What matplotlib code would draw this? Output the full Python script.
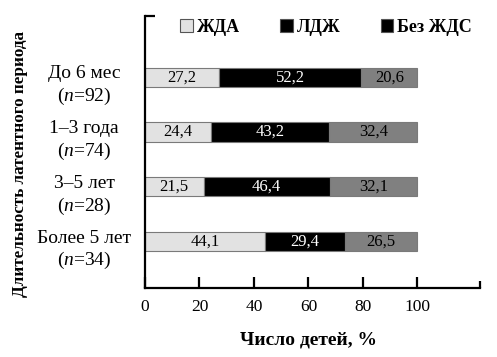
import matplotlib
matplotlib.use("Agg")
import matplotlib.pyplot as plt
from matplotlib.patches import Patch
from matplotlib.transforms import blended_transform_factory, ScaledTranslation

plt.rcParams['font.family'] = ['Liberation Serif', 'DejaVu Serif']
plt.rcParams['mathtext.fontset'] = 'custom'
plt.rcParams['mathtext.rm'] = 'Liberation Serif'
plt.rcParams['mathtext.it'] = 'Liberation Serif:italic'

categories = ["До 6 мес", "1–3 года", "3–5 лет", "Более 5 лет"]
counts = [92, 74, 28, 34]
series_names = ["ЖДА", "ЛДЖ", "Без ЖДС"]
zhda = [27.2, 24.4, 21.5, 44.1]
ldzh = [52.2, 43.2, 46.4, 29.4]
bez = [20.6, 32.4, 32.1, 26.5]
xticks = [0, 20, 40, 60, 80, 100]

fill_colors = ["#e2e2e2", "#000000", "#808080"]
text_colors = ["#000000", "#ffffff", "#000000"]
legend_colors = ["#e2e2e2", "#000000", "#000000"]

fig = plt.figure(figsize=(4.97, 3.57), dpi=100)
ax = fig.add_axes([145/497, 69/357, 335/497, 272/357])

ypos = list(range(len(categories)))
left = [0.0] * len(categories)
for vals, fc, tc in zip([zhda, ldzh, bez], fill_colors, text_colors):
    bars = ax.barh(ypos, vals, left=left, height=0.35, color=fc,
                   edgecolor="#7a7a7a", linewidth=0.8)
    for b, v in zip(bars, vals):
        ax.text(b.get_x() + b.get_width() / 2, b.get_y() + b.get_height() / 2,
                f"{v:.1f}".replace(".", ","), ha="center", va="center",
                color=tc, fontsize=12)
    left = [l + v for l, v in zip(left, vals)]

ytop = -1.12
ax.set_ylim(3.85, ytop)
ax.set_xlim(0, 123)

for s in ["top", "right"]:
    ax.spines[s].set_visible(False)
for s in ["left", "bottom"]:
    ax.spines[s].set_linewidth(1.6)

ax.set_xticks(xticks)
ax.set_xticklabels([str(t) for t in xticks], fontsize=12.5)
ax.tick_params(axis="x", direction="in", length=8, width=1.6, pad=8)
ax.set_xticks([123], minor=True)
ax.tick_params(axis="x", which="minor", direction="in", length=5, width=1.6)

ax.set_yticks([])
ax.set_yticks([ytop], minor=True)
ax.tick_params(axis="y", which="minor", direction="in", length=7, width=1.6,
               labelleft=False)

trans = blended_transform_factory(ax.transAxes, ax.transData) + \
    ScaledTranslation(0, -9/100, fig.dpi_scale_trans)
for i, (c, n) in enumerate(zip(categories, counts)):
    ax.text(-61/335, i, f"{c}\n($n$={n})", transform=trans, ha="center",
            va="center", multialignment="center", fontsize=14, linespacing=1.25)

handles = [Patch(facecolor=c, edgecolor="#555555", linewidth=0.8) for c in legend_colors]
fig.legend(handles, series_names, loc="center", ncol=3,
           bbox_to_anchor=(326/497, 1 - 27/357), frameon=False,
           prop={"weight": "bold", "size": 13}, handlelength=0.7,
           handleheight=0.7, handletextpad=0.2, columnspacing=2.25)

fig.text(20/497, 1 - 164/357, "Длительность латентного периода", rotation=90,
         ha="center", va="center", fontsize=12.3, fontweight="bold")
fig.text(309/497, 1 - 340/357, "Число детей, %", ha="center", va="center",
         fontsize=14, fontweight="bold")

fig.savefig("out.png", dpi=100)
